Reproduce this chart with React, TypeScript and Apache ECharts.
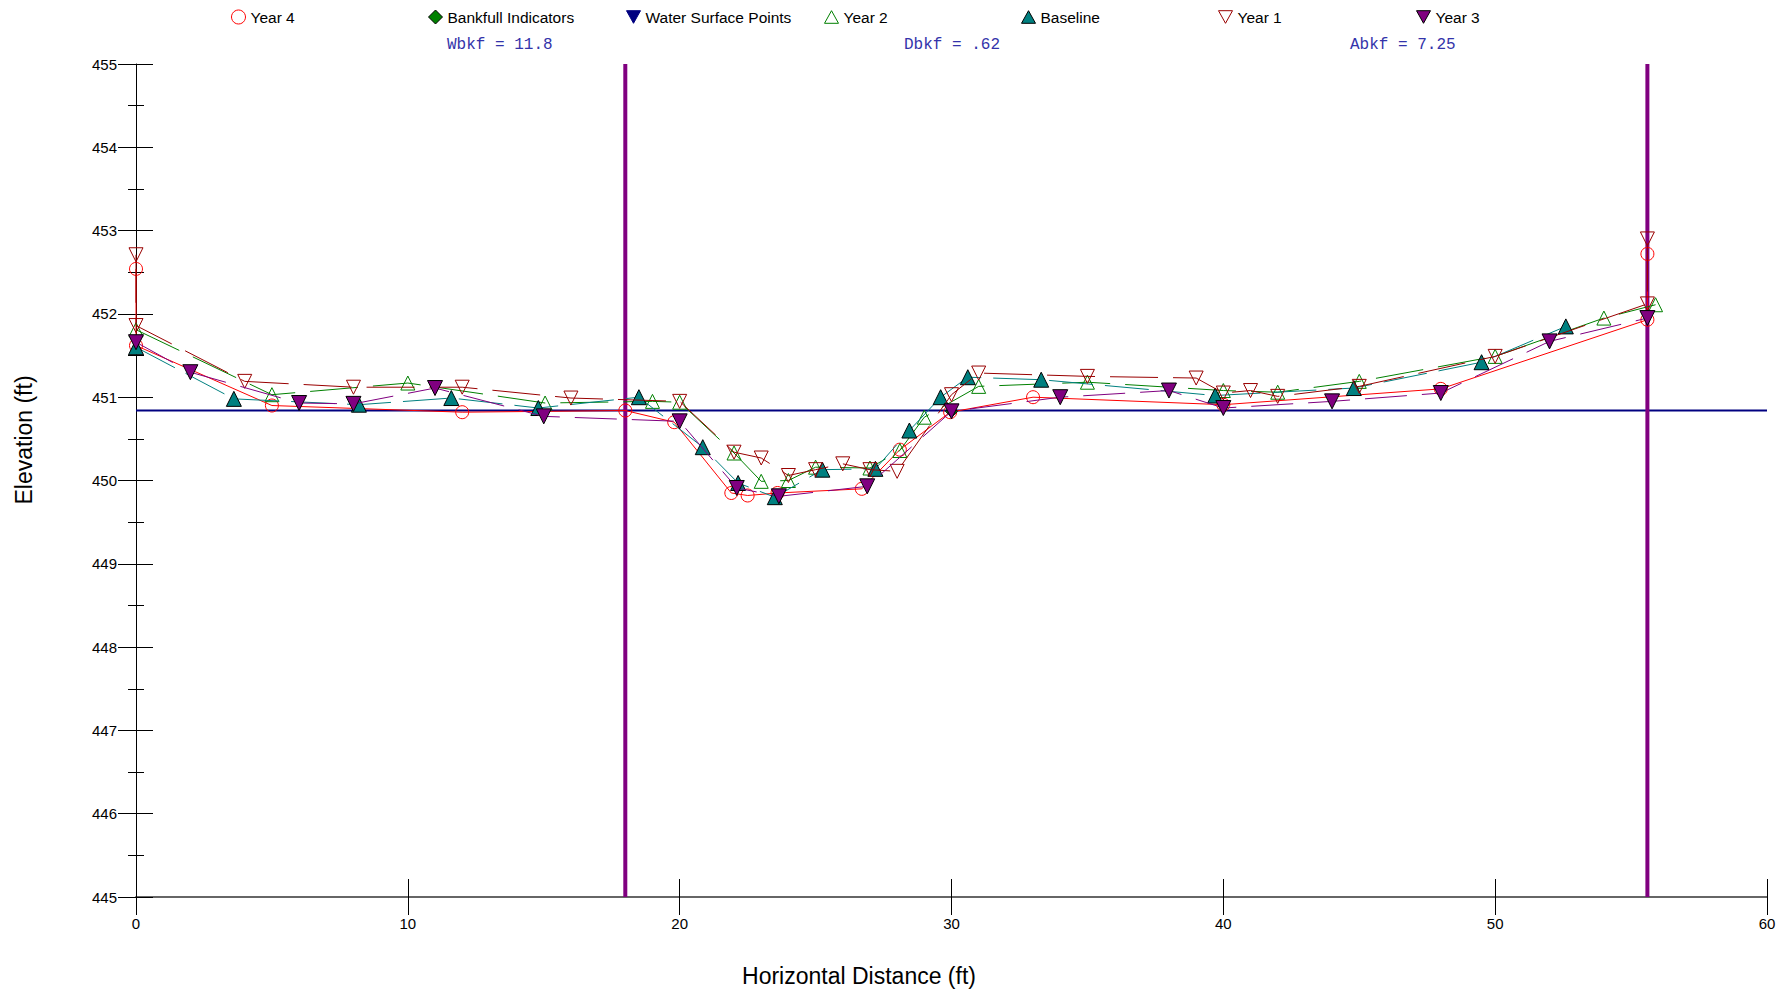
import React, { useEffect, useRef } from "react";
import * as echarts from "echarts";

// ---- data ----
const seriesNames = [
  "Year 4",
  "Bankfull Indicators",
  "Water Surface Points",
  "Year 2",
  "Baseline",
  "Year 1",
  "Year 3",
];

const year4: number[][] = [
  [0, 452.54], [0, 451.62], [5.0, 450.9], [12.0, 450.82], [18.0, 450.84], [19.8, 450.7],
  [21.9, 449.85], [22.5, 449.82], [23.6, 449.85], [26.7, 449.9], [28.1, 450.37],
  [29.95, 450.82], [33.0, 451.0], [40.0, 450.91], [48.0, 451.1], [55.6, 451.93], [55.6, 452.72],
];

const bankfullIndicators: number[][] = [[30.0, 450.83]];

const waterSurfacePoints: number[][] = [];

const year2: number[][] = [
  [0, 451.81], [5.0, 451.03], [10.0, 451.17], [15.05, 450.93], [19.0, 450.95], [20.0, 450.94],
  [22.0, 450.33], [23.0, 449.99], [24.0, 450.0], [25.0, 450.16], [27.0, 450.15], [28.1, 450.36],
  [29.0, 450.76], [31.0, 451.13], [35.0, 451.18], [40.0, 451.08], [42.0, 451.06], [45.0, 451.19],
  [50.0, 451.49], [54.0, 451.95], [55.9, 452.11],
];

const baseline: number[][] = [
  [0, 451.6], [3.6, 450.98], [8.2, 450.91], [11.6, 450.99], [14.8, 450.87], [18.5, 451.0],
  [20.85, 450.4], [22.15, 449.97], [23.5, 449.8], [25.25, 450.13], [27.2, 450.14], [28.45, 450.6],
  [29.6, 451.0], [30.6, 451.24], [33.3, 451.21], [39.7, 451.02], [44.8, 451.11], [49.5, 451.42],
  [52.6, 451.85],
];

const year1: number[][] = [
  [0, 452.71], [0, 451.86], [4.0, 451.19], [8.0, 451.12], [12.0, 451.12], [16.0, 450.99],
  [20.0, 450.95], [22.0, 450.34], [23.0, 450.27], [24.0, 450.06], [25.0, 450.13], [26.0, 450.2],
  [27.0, 450.13], [28.0, 450.11], [30.0, 451.03], [31.0, 451.29], [35.0, 451.25], [39.0, 451.23],
  [40.0, 451.05], [41.0, 451.08], [42.0, 451.01], [45.0, 451.13], [50.0, 451.49], [55.6, 452.12],
  [55.6, 452.9],
];

const year3: number[][] = [
  [0, 451.66], [2.0, 451.3], [6.0, 450.93], [8.0, 450.92], [11.0, 451.11], [15.0, 450.77],
  [20.0, 450.71], [22.1, 449.91], [23.65, 449.81], [26.9, 449.93], [30.0, 450.83], [34.0, 451.0],
  [38.0, 451.08], [40.0, 450.87], [44.0, 450.95], [48.0, 451.05], [52.0, 451.67], [55.6, 451.95],
];

const bankfullElevation = 450.84;
const bankfullStations = [18.0, 55.6];
const xRange = [0, 60];
const yRange = [445, 455];

const annotations = ["Wbkf = 11.8", "Dbkf = .62", "Abkf = 7.25"];
const xAxisTitle = "Horizontal Distance (ft)";
const yAxisTitle = "Elevation (ft)";

// ---- styling ----
const FONT = "'Liberation Sans', Arial, sans-serif";
const DOWN_TRI = "path://M0,0L10,0L5,9Z";
const UP_TRI = "path://M5,0L10,9L0,9Z";

export default function App() {
  const ref = useRef<HTMLDivElement>(null);

  useEffect(() => {
    if (!ref.current) return;
    const chart = echarts.init(ref.current, undefined, { renderer: "svg" });

    const styles: Record<string, any> = {
      "Year 4": {
        symbol: "circle", size: 13,
        item: { color: "rgba(0,0,0,0)", borderColor: "#ff0000", borderWidth: 1 },
        line: { color: "#ff0000", width: 1, type: "solid" },
      },
      "Bankfull Indicators": {
        symbol: "diamond", size: 12,
        item: { color: "#008000", borderColor: "#000", borderWidth: 1 },
        line: { width: 0 },
      },
      "Water Surface Points": {
        symbol: DOWN_TRI, size: 13,
        item: { color: "#000080", borderColor: "#000080", borderWidth: 1 },
        line: { width: 0 },
      },
      "Year 2": {
        symbol: UP_TRI, size: 14,
        item: { color: "rgba(0,0,0,0)", borderColor: "#008000", borderWidth: 1 },
        line: { color: "#008000", width: 1, type: [48, 15] },
      },
      Baseline: {
        symbol: UP_TRI, size: 15,
        item: { color: "#008080", borderColor: "#000", borderWidth: 1 },
        line: { color: "#008080", width: 1, type: [44, 12] },
      },
      "Year 1": {
        symbol: DOWN_TRI, size: 14,
        item: { color: "rgba(0,0,0,0)", borderColor: "#990000", borderWidth: 1 },
        line: { color: "#990000", width: 1, type: [48, 15] },
      },
      "Year 3": {
        symbol: DOWN_TRI, size: 15,
        item: { color: "#800080", borderColor: "#000", borderWidth: 1 },
        line: { color: "#800080", width: 1, type: [42, 15] },
      },
    };

    const dataByName: Record<string, number[][]> = {
      "Year 4": year4,
      "Bankfull Indicators": bankfullIndicators,
      "Water Surface Points": waterSurfacePoints,
      "Year 2": year2,
      Baseline: baseline,
      "Year 1": year1,
      "Year 3": year3,
    };

    const legendX = [238, 435, 633, 831, 1028, 1225, 1423];

    const legends = seriesNames.map((name, i) => {
      const st = styles[name];
      return {
        left: legendX[i] - 7,
        top: 9,
        padding: 0,
        itemWidth: 14,
        itemHeight: 14,
        selectedMode: false,
        textStyle: { fontSize: 15.5, color: "#000", fontFamily: FONT },
        data: [{ name, icon: st.symbol, itemStyle: { ...st.item } }],
      };
    });

    const refSeries: any[] = [
      {
        type: "line",
        name: "_bkf",
        data: [[xRange[0], bankfullElevation], [xRange[1], bankfullElevation]],
        symbol: "none",
        lineStyle: { color: "#000080", width: 2 },
        silent: true,
        z: 1,
      },
      ...bankfullStations.map((s, i) => ({
        type: "line",
        name: "_sta" + i,
        data: [[s, yRange[0]], [s, yRange[1]]],
        symbol: "none",
        lineStyle: { color: "#800080", width: 4 },
        silent: true,
        z: 1,
      })),
    ];

    const dataSeries = seriesNames.map((name, i) => {
      const st = styles[name];
      return {
        type: "line",
        name,
        data: dataByName[name],
        symbol: st.symbol,
        symbolSize: st.size,
        showSymbol: true,
        itemStyle: st.item,
        lineStyle: st.line,
        z: 3 + i,
      };
    });

    const textAnn = [447, 904, 1350].map((x, i) => ({
      type: "text",
      left: x,
      top: 37,
      style: {
        text: annotations[i],
        fontSize: 16,
        fontFamily: "'Liberation Mono', 'Courier New', monospace",
        fill: "#3333aa",
      },
    }));

    const option: any = {
      animation: false,
      backgroundColor: "#fff",
      grid: { left: 136, right: 22, top: 64, bottom: 96, containLabel: false },
      legend: legends,
      xAxis: [
        {
          type: "value",
          min: xRange[0],
          max: xRange[1],
          interval: 10,
          position: "bottom",
          axisLine: { show: true, onZero: false, lineStyle: { color: "#666", width: 2 } },
          axisTick: { show: true, length: 18, lineStyle: { color: "#000", width: 1 } },
          axisLabel: { fontSize: 15, color: "#000", margin: 19, fontFamily: FONT },
          splitLine: { show: false },
        },
        {
          type: "value",
          min: xRange[0],
          max: xRange[1],
          interval: 10,
          position: "bottom",
          offset: 0,
          axisLine: { show: false, onZero: false },
          axisTick: { show: true, inside: true, length: 18, lineStyle: { color: "#000", width: 1 } },
          axisLabel: { show: false },
          splitLine: { show: false },
        },
      ],
      yAxis: [
        {
          type: "value",
          min: yRange[0],
          max: yRange[1],
          interval: 1,
          position: "left",
          axisLine: { show: true, onZero: false, lineStyle: { color: "#000", width: 1 } },
          axisTick: { show: true, length: 18, lineStyle: { color: "#000", width: 1 } },
          minorTick: { show: true, splitNumber: 2, length: 8, lineStyle: { color: "#000", width: 1 } },
          axisLabel: { fontSize: 15, color: "#000", margin: 19, fontFamily: FONT },
          splitLine: { show: false },
          minorSplitLine: { show: false },
        },
        {
          type: "value",
          min: yRange[0],
          max: yRange[1],
          interval: 1,
          position: "left",
          offset: 0,
          axisLine: { show: false, onZero: false },
          axisTick: { show: true, inside: true, length: 17, lineStyle: { color: "#000", width: 1 } },
          minorTick: { show: true, splitNumber: 2, length: 8, lineStyle: { color: "#000", width: 1 } },
          axisLabel: { show: false },
          splitLine: { show: false },
          minorSplitLine: { show: false },
        },
      ],
      graphic: [
        ...textAnn,
        {
          type: "text",
          x: 24,
          y: 440,
          rotation: Math.PI / 2,
          style: {
            text: yAxisTitle,
            fontSize: 23,
            fontFamily: FONT,
            fill: "#000",
            align: "center",
            verticalAlign: "middle",
          },
        },
        {
          type: "text",
          x: 859,
          y: 976,
          style: {
            text: xAxisTitle,
            fontSize: 23,
            fontFamily: FONT,
            fill: "#000",
            align: "center",
            verticalAlign: "middle",
          },
        },
      ],
      series: [...refSeries, ...dataSeries],
    };

    chart.setOption(option);
    return () => chart.dispose();
  }, []);

  return (
    <div
      ref={ref}
      style={{ position: "fixed", left: 0, top: 0, width: 1789, height: 993, background: "#fff" }}
    />
  );
}
